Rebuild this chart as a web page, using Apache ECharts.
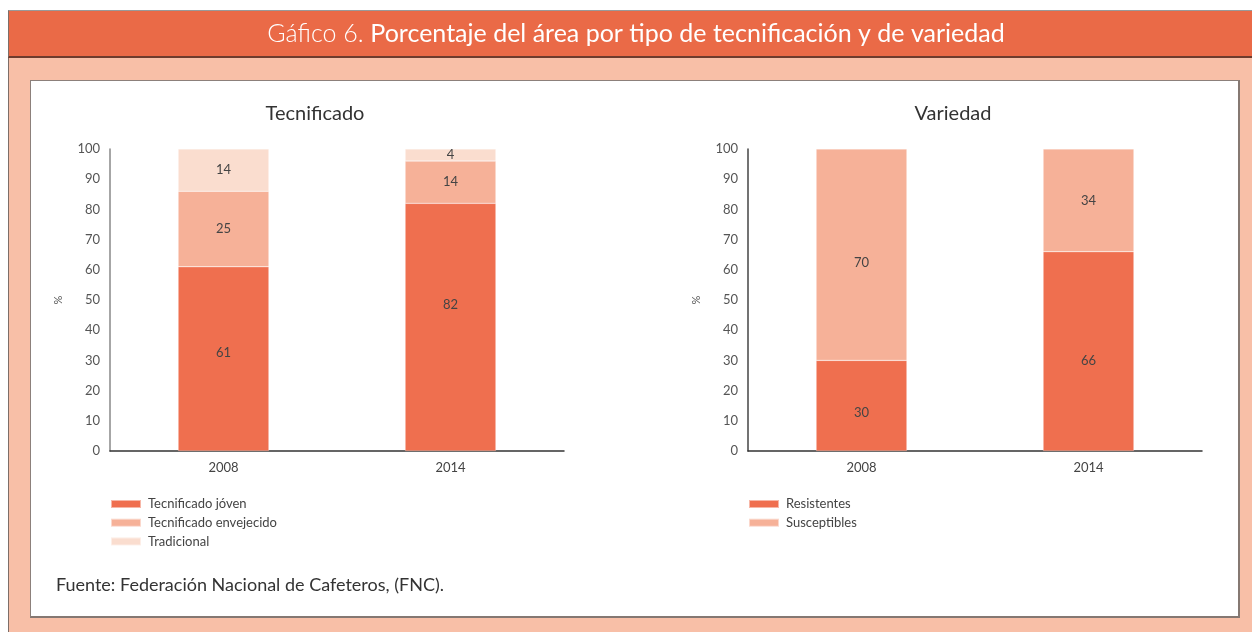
<!DOCTYPE html>
<html>
<head>
<meta charset="utf-8">
<script src="https://cdn.jsdelivr.net/npm/echarts@6/dist/echarts.min.js"></script>
<style>
    body { margin: 0; background: #fff; }
    .frame {
        position: absolute; left: 8px; top: 10px; width: 1244px; height: 622px;
        background: #F8BFA7; border-left: 1px solid #7d6e68; border-top: 1px solid #999;
    }
    .header {
        position: absolute; left: 8px; top: 10px; width: 1244px; height: 45px;
        background: #EA6A47; border-left: 1px solid #7d6e68; border-top: 1px solid #999;
        border-bottom: 2px solid #6e3b2d;
    }
    .panel {
        position: absolute; left: 30px; top: 80px; width: 1207px; height: 535px;
        background: #fff; border: 1px solid #8c807b;
        border-right: 2px solid #857872; border-bottom: 2px solid #857872;
    }
    #chart { position: absolute; left: 0; top: 0; width: 1252px; height: 632px; }
</style>
</head>
<body>
<div class="frame"></div>
<div class="header"></div>
<div class="panel"></div>
<div id="chart"></div>
<script>
    // datos
    var years = ['2008', '2014'];
    var tecJoven = [61, 82];
    var tecEnvejecido = [25, 14];
    var tradicional = [14, 4];
    var resistentes = [30, 66];
    var susceptibles = [70, 34];
    var yTicks = { min: 0, max: 100, interval: 10 };

    var font = 'Lato, "Open Sans", sans-serif';
    var cDark = '#EF6F4F', cMid = '#F6B198', cLight = '#FADDCF';

    // desplazamiento vertical de etiquetas (como en el original)
    var labelShift = {
        'Tecnificado jóven': [-6, -22],
        'Resistentes': [7, 9],
        'Susceptibles': [8, 0]
    };

    var chart = echarts.init(document.getElementById('chart'));

    function yAxis(idx, lineColor) {
        return {
            type: 'value', gridIndex: idx,
            min: yTicks.min, max: yTicks.max, interval: yTicks.interval,
            name: '%', nameLocation: 'middle', nameGap: 46, nameRotate: 90,
            nameTextStyle: { fontSize: 11, color: '#555', fontFamily: font },
            axisLine: { show: true, lineStyle: { color: lineColor, width: 1.5 } },
            axisTick: { show: false },
            splitLine: { show: false },
            axisLabel: { fontSize: 13, color: '#555', margin: 10, fontFamily: font }
        };
    }

    function xAxis(idx) {
        return {
            type: 'category', gridIndex: idx, data: years,
            axisLine: { lineStyle: { color: '#333', width: 1.5 } },
            axisTick: { show: false },
            axisLabel: { fontSize: 13, color: '#444', margin: 10, fontFamily: font }
        };
    }

    function barSeries(name, data, color, idx, stack) {
        var shift = labelShift[name] || [];
        return {
            name: name, type: 'bar', stack: stack,
            xAxisIndex: idx, yAxisIndex: idx,
            barWidth: '40%',
            data: data.map(function (v, i) {
                return { value: v, label: { offset: [0, shift[i] || 0] } };
            }),
            itemStyle: { color: color, borderColor: 'rgba(255,255,255,0.5)', borderWidth: 0.5 },
            label: { show: true, position: 'inside', color: '#444', fontSize: 13, fontFamily: font }
        };
    }

    function legend(left, names) {
        return {
            orient: 'vertical', left: left, top: 492,
            itemWidth: 30, itemHeight: 8, itemGap: 4.7, icon: 'rect',
            data: names,
            textStyle: { fontSize: 13, color: '#444', lineHeight: 14, padding: [0, 0, 0, 2], fontFamily: font }
        };
    }

    chart.setOption({
        animation: false,
        textStyle: { fontFamily: font },
        title: [
            {
                text: '{a|Gáfico 6. }{b|Porcentaje del área por tipo de tecnificación y de variedad}',
                left: 631, top: 16, textAlign: 'center',
                textStyle: {
                    rich: {
                        a: { fontSize: 25, color: '#fff', fontWeight: 300, fontFamily: font },
                        b: { fontSize: 25, color: '#fff', fontWeight: 'normal', fontFamily: font }
                    }
                }
            },
            {
                text: 'Tecnificado', left: 310, top: 99, textAlign: 'center',
                textStyle: { fontSize: 20, color: '#333', fontWeight: 'normal', fontFamily: font }
            },
            {
                text: 'Variedad', left: 948, top: 99, textAlign: 'center',
                textStyle: { fontSize: 20, color: '#333', fontWeight: 'normal', fontFamily: font }
            },
            {
                text: 'Fuente: Federación Nacional de Cafeteros, (FNC).', left: 51, top: 571,
                textStyle: { fontSize: 18, color: '#333', fontWeight: 'normal', fontFamily: font }
            }
        ],
        legend: [
            legend(105, ['Tecnificado jóven', 'Tecnificado envejecido', 'Tradicional']),
            legend(743, ['Resistentes', 'Susceptibles'])
        ],
        grid: [
            { left: 110, top: 149, width: 454, height: 302 },
            { left: 748, top: 149, width: 454, height: 302 }
        ],
        xAxis: [xAxis(0), xAxis(1)],
        yAxis: [yAxis(0, '#888'), yAxis(1, '#444')],
        series: [
            barSeries('Tecnificado jóven', tecJoven, cDark, 0, 'tec'),
            barSeries('Tecnificado envejecido', tecEnvejecido, cMid, 0, 'tec'),
            barSeries('Tradicional', tradicional, cLight, 0, 'tec'),
            barSeries('Resistentes', resistentes, cDark, 1, 'var'),
            barSeries('Susceptibles', susceptibles, cMid, 1, 'var')
        ]
    });
</script>
</body>
</html>
